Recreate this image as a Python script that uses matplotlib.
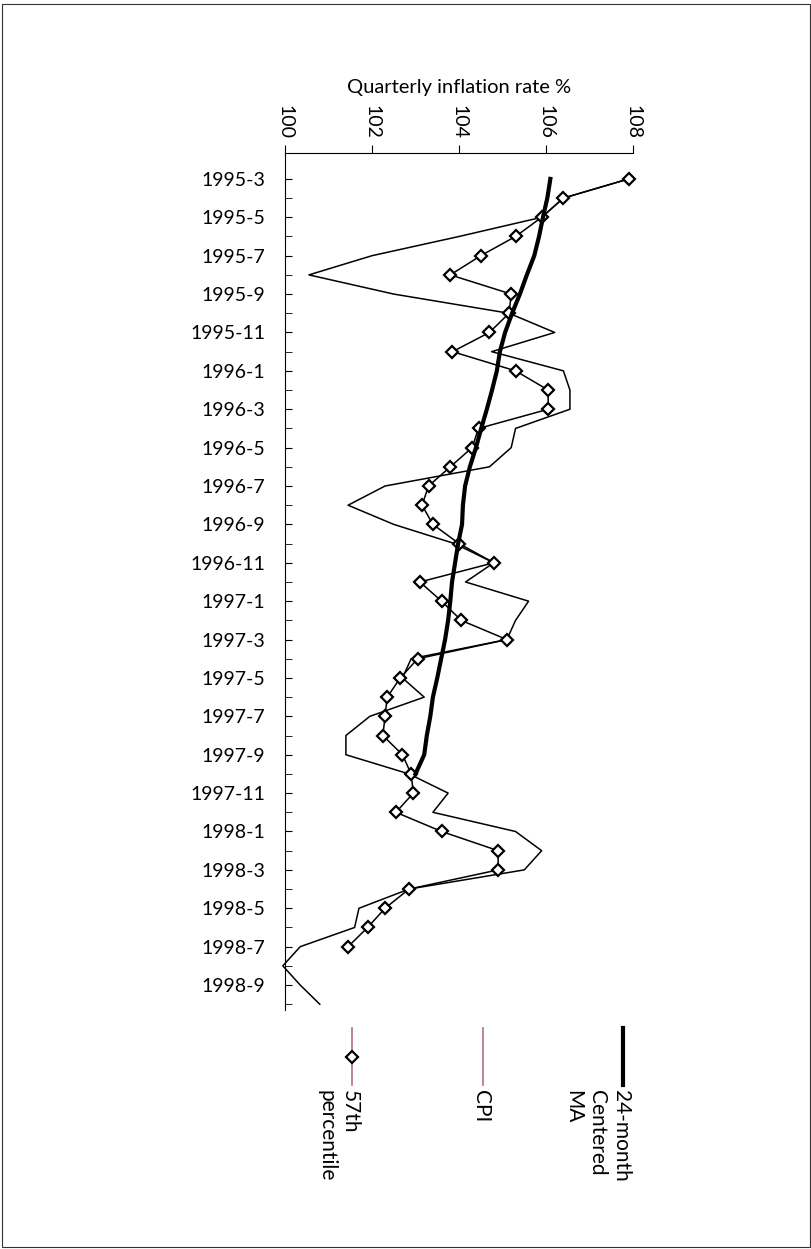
import numpy as np
import matplotlib
matplotlib.use("Agg")
import matplotlib.pyplot as plt
from matplotlib.patches import Rectangle

plt.rcParams['font.family'] = ['Lato', 'DejaVu Sans']

months = ['1995-3', '1995-4', '1995-5', '1995-6', '1995-7', '1995-8', '1995-9', '1995-10',
          '1995-11', '1995-12', '1996-1', '1996-2', '1996-3', '1996-4', '1996-5', '1996-6',
          '1996-7', '1996-8', '1996-9', '1996-10', '1996-11', '1996-12', '1997-1', '1997-2',
          '1997-3', '1997-4', '1997-5', '1997-6', '1997-7', '1997-8', '1997-9', '1997-10',
          '1997-11', '1997-12', '1998-1', '1998-2', '1998-3', '1998-4', '1998-5', '1998-6',
          '1998-7', '1998-8', '1998-9', '1998-10']

pct57 = [107.9, 106.4, 105.9, 105.3, 104.5, 103.8, 105.2, 105.15, 104.7, 103.85,
         105.3, 106.05, 106.05, 104.45, 104.3, 103.8, 103.3, 103.15, 103.4, 104.0,
         104.8, 103.1, 103.6, 104.05, 105.1, 103.05, 102.65, 102.35, 102.3, 102.25,
         102.7, 102.9, 102.95, 102.55, 103.6, 104.9, 104.9, 102.85, 102.3, 101.9, 101.45]

cpi = [107.9, 106.4, 105.9, 104.0, 102.0, 100.55, 102.5, 105.15, 106.2, 104.75,
       106.4, 106.55, 106.55, 105.3, 105.2, 104.7, 102.3, 101.45, 102.5, 103.9,
       104.8, 104.15, 105.6, 105.3, 105.1, 102.9, 102.7, 103.2, 101.95, 101.4,
       101.4, 102.85, 103.75, 103.4, 105.3, 105.9, 105.5, 102.85, 101.7, 101.6,
       100.35, 99.95, 100.35, 100.8]

ma24 = [106.1, 106.03, 105.93, 105.84, 105.73, 105.56, 105.4, 105.22, 105.06, 104.94,
        104.87, 104.76, 104.64, 104.51, 104.39, 104.25, 104.14, 104.09, 104.07, 103.98,
        103.91, 103.84, 103.8, 103.75, 103.68, 103.59, 103.5, 103.4, 103.34, 103.26,
        103.2, 103.0]

tick_labels = months[0:43:2]

fig = plt.figure(figsize=(8.12, 12.49), dpi=100)
fig.patches.append(Rectangle((0.002, 0.002), 0.995, 0.995, transform=fig.transFigure,
                             fill=False, edgecolor='#333333', lw=0.8))

ax = fig.add_axes([285 / 812, 1 - 1010 / 1249, 348 / 812, 857 / 1249])
ax.set_xlim(100, 108)
ax.set_ylim(43.3, -1.35)

ax.plot(cpi, np.arange(len(cpi)), color='black', lw=1.1, clip_on=False)
ax.plot(pct57, np.arange(len(pct57)), color='black', lw=1.1, marker='D', ms=6,
        mfc='white', mec='black', mew=1.6, clip_on=False)
ax.plot(ma24, np.arange(len(ma24)), color='black', lw=3, clip_on=False)

for s in ['right', 'bottom']:
    ax.spines[s].set_visible(False)
ax.xaxis.tick_top()
ax.set_xticks(np.arange(100, 109, 2))
ax.set_xticklabels([str(v) for v in range(100, 109, 2)], rotation=-90, fontsize=14)
ax.tick_params(axis='x', length=6, pad=4)
ax.set_yticks(np.arange(0, 43, 2))
ax.set_yticks(np.arange(0, 44, 1), minor=True)
ax.set_yticklabels(tick_labels, fontsize=14)
ax.tick_params(axis='y', which='both', direction='in', length=5, pad=14)
fig.text(459 / 812, 1 - 88 / 1249, 'Quarterly inflation rate %', fontsize=14.5,
         ha='center', va='center')

# legend drawn by hand, rotated
lx = [623, 483, 352]
names = ['24-month\nCentered\nMA', 'CPI', '57th\npercentile']
for i, (x, name) in enumerate(zip(lx, names)):
    xf = x / 812
    col = 'black' if i == 0 else '#b07088'
    fig.add_artist(plt.Line2D([xf, xf], [1 - 1028 / 1249, 1 - 1085 / 1249],
                              color=col, lw=3 if i == 0 else 1.2))
    if i == 2:
        fig.add_artist(plt.Line2D([xf], [1 - 1057 / 1249], marker='D', ms=6, mfc='white',
                                  mec='black', mew=1.6))
    fig.text(xf + 0.01, 1 - 1090 / 1249, name, rotation=-90, ha='right', va='top',
             fontsize=15, linespacing=1.25, multialignment='left')

fig.savefig('out.png', dpi=100)
